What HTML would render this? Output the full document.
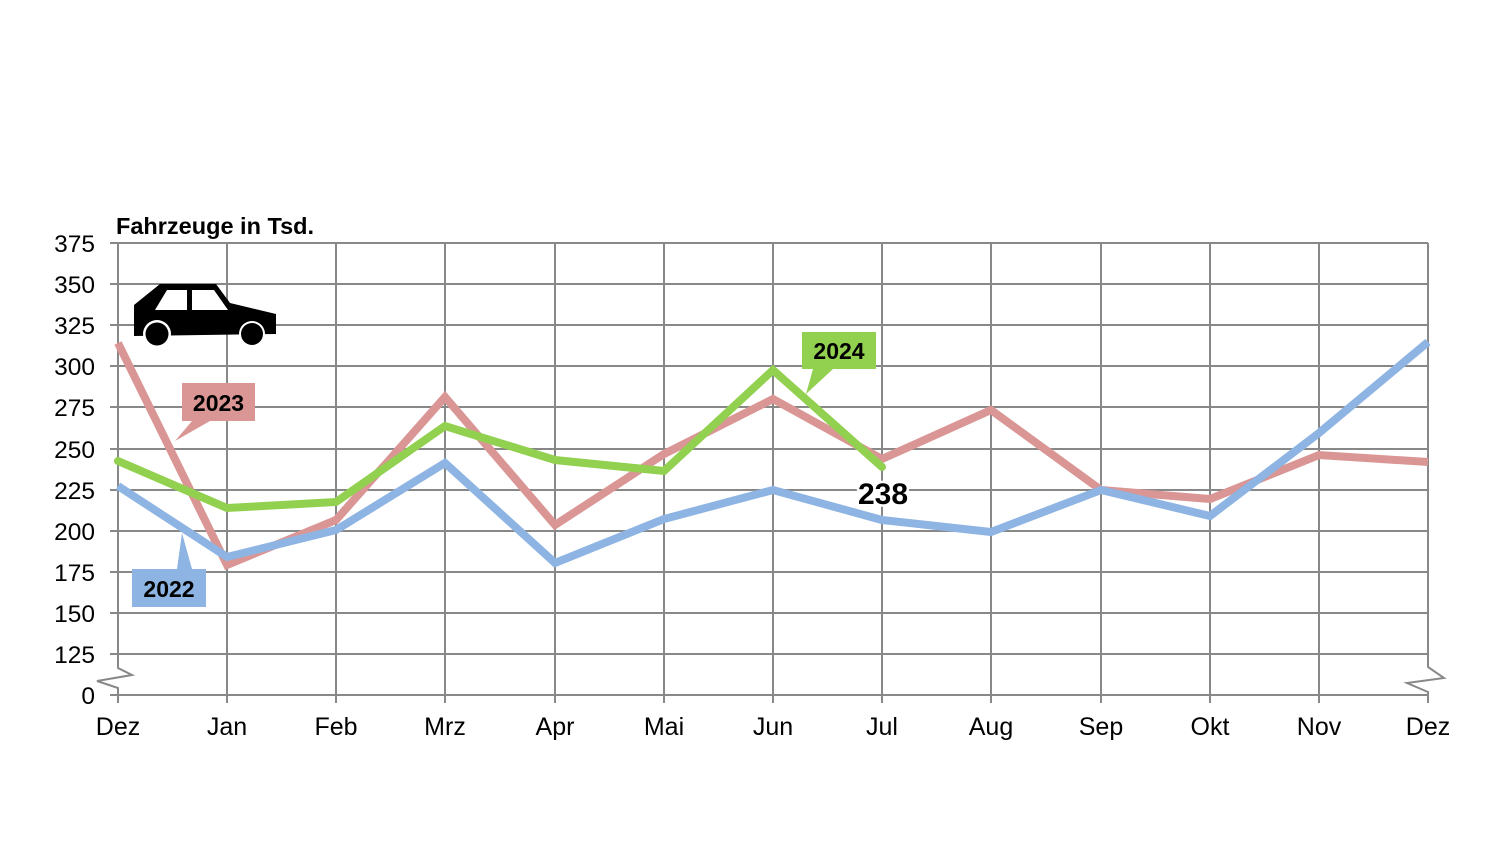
<!DOCTYPE html>
<html>
<head>
<meta charset="utf-8">
<style>
html,body{margin:0;padding:0;background:#fff;}
svg{display:block;}
text{font-family:"Liberation Sans",Arial,sans-serif;}
</style>
</head>
<body>
<svg width="1509" height="848" viewBox="0 0 1509 848" xmlns="http://www.w3.org/2000/svg">
<rect width="1509" height="848" fill="#fff"/>
<g stroke="#888" stroke-width="2" fill="none">
  <line x1="110" y1="243" x2="1428" y2="243"/>
  <line x1="110" y1="284" x2="1428" y2="284"/>
  <line x1="110" y1="325" x2="1428" y2="325"/>
  <line x1="110" y1="366" x2="1428" y2="366"/>
  <line x1="110" y1="407" x2="1428" y2="407"/>
  <line x1="110" y1="449" x2="1428" y2="449"/>
  <line x1="110" y1="490" x2="1428" y2="490"/>
  <line x1="110" y1="531" x2="1428" y2="531"/>
  <line x1="110" y1="572" x2="1428" y2="572"/>
  <line x1="110" y1="613" x2="1428" y2="613"/>
  <line x1="110" y1="654" x2="1428" y2="654"/>
  <line x1="110" y1="695" x2="1428" y2="695"/>
  <line x1="227" y1="243" x2="227" y2="703"/>
  <line x1="336" y1="243" x2="336" y2="703"/>
  <line x1="445" y1="243" x2="445" y2="703"/>
  <line x1="555" y1="243" x2="555" y2="703"/>
  <line x1="664" y1="243" x2="664" y2="703"/>
  <line x1="773" y1="243" x2="773" y2="703"/>
  <line x1="882" y1="243" x2="882" y2="703"/>
  <line x1="991" y1="243" x2="991" y2="703"/>
  <line x1="1101" y1="243" x2="1101" y2="703"/>
  <line x1="1210" y1="243" x2="1210" y2="703"/>
  <line x1="1319" y1="243" x2="1319" y2="703"/>
  <polyline points="118,243 118,668 132,675 97,681 118,688 118,703"/>
  <polyline points="1428,243 1428,667 1444,678 1407,683 1428,692 1428,703"/>
</g>

<g font-size="24.5" fill="#000" text-anchor="end">
  <text x="95" y="252">375</text>
  <text x="95" y="293">350</text>
  <text x="95" y="334">325</text>
  <text x="95" y="375">300</text>
  <text x="95" y="416">275</text>
  <text x="95" y="458">250</text>
  <text x="95" y="499">225</text>
  <text x="95" y="540">200</text>
  <text x="95" y="581">175</text>
  <text x="95" y="622">150</text>
  <text x="95" y="663">125</text>
  <text x="95" y="704">0</text>
</g>

<g font-size="25" fill="#000" text-anchor="middle">
  <text x="118" y="735">Dez</text>
  <text x="227" y="735">Jan</text>
  <text x="336" y="735">Feb</text>
  <text x="445" y="735">Mrz</text>
  <text x="555" y="735">Apr</text>
  <text x="664" y="735">Mai</text>
  <text x="773" y="735">Jun</text>
  <text x="882" y="735">Jul</text>
  <text x="991" y="735">Aug</text>
  <text x="1101" y="735">Sep</text>
  <text x="1210" y="735">Okt</text>
  <text x="1319" y="735">Nov</text>
  <text x="1428" y="735">Dez</text>
</g>

<text x="116" y="234" font-size="23.5" font-weight="bold" fill="#000">Fahrzeuge in Tsd.</text>

<g fill="#000">
  <polygon points="160,284 216,284 230,303 276,314 276,334 134,336 134,305"/>
  <polygon points="167,290 187,290 187,310 155,310" fill="#fff"/>
  <polygon points="192,290 214,290 228,310 192,310" fill="#fff"/>
  <circle cx="157" cy="334" r="14" fill="#fff"/>
  <circle cx="157" cy="334" r="11.5"/>
  <circle cx="252" cy="334" r="13" fill="#fff"/>
  <circle cx="252" cy="334" r="11"/>
</g>

<g fill="none" stroke-width="8" stroke-linejoin="miter" stroke-miterlimit="6">
  <polyline stroke="#d99694" points="118,343 227,565 336,520 445,397 555,525 664,454 773,399 882,459 991,410 1101,490 1210,499 1319,455 1428,462"/>
  <polyline stroke="#92d050" stroke-linecap="round" points="118,461 227,508 336,502 445,426 555,460 664,471 773,370 882,467"/>
  <polyline stroke="#8eb4e3" points="118,486 227,557 336,530 445,463 555,563 664,519 773,490 882,520 991,532 1101,490 1210,516 1319,433 1428,342"/>
</g>

<g>
  <polygon points="182,383 255,383 255,421 210,421 175,441 192,421 182,421" fill="#d99694"/>
  <text x="218.5" y="411" font-size="23" font-weight="bold" text-anchor="middle" fill="#000">2023</text>

  <polygon points="802,332 876,332 876,369 833,369 806,394 813,369 802,369" fill="#92d050"/>
  <text x="839" y="359" font-size="23" font-weight="bold" text-anchor="middle" fill="#000">2024</text>

  <polygon points="132,569 177,569 182,533 192,569 206,569 206,607 132,607" fill="#8eb4e3"/>
  <text x="169" y="597" font-size="23" font-weight="bold" text-anchor="middle" fill="#000">2022</text>
</g>

<text x="883" y="504" font-size="30" font-weight="bold" text-anchor="middle" fill="#000" stroke="#fff" stroke-width="5" paint-order="stroke" stroke-linejoin="round">238</text>
</svg>
</body>
</html>
